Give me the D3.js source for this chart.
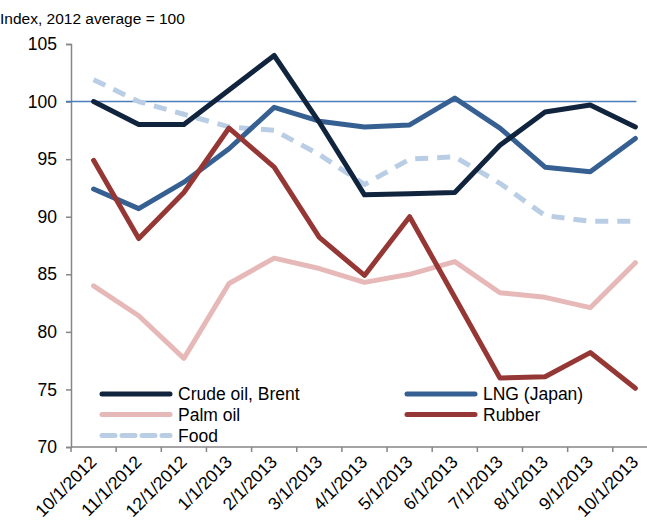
<!DOCTYPE html>
<html><head><meta charset="utf-8">
<script src="https://cdn.jsdelivr.net/npm/d3@7"></script>
<style>body{margin:0;background:#fff}svg{display:block}text{font-family:"Liberation Sans",Arial,sans-serif;fill:#000}</style>
</head><body><svg id="c" width="647" height="522"></svg>
<script>
const categories=["10/1/2012","11/1/2012","12/1/2012","1/1/2013","2/1/2013","3/1/2013","4/1/2013","5/1/2013","6/1/2013","7/1/2013","8/1/2013","9/1/2013","10/1/2013"];
const crude=[100,98,98,101,104,98.2,91.9,92.0,92.1,96.2,99.1,99.7,97.8];
const lng=[92.4,90.7,93.0,95.9,99.5,98.3,97.8,97.97,100.3,97.7,94.3,93.9,96.8];
const palm=[84,81.4,77.7,84.2,86.4,85.5,84.3,85.0,86.1,83.4,83.0,82.1,86.0];
const rubber=[94.9,88.1,92.1,97.7,94.3,88.2,84.9,90.0,83.0,76.0,76.1,78.2,75.1];
const food=[101.9,100.0,98.9,97.8,97.5,95.4,92.8,95.0,95.2,92.9,90.1,89.6,89.6];
const yTicks=[70,75,80,85,90,95,100,105];
const baseline=100;

const svg=d3.select("#c");
const x=d3.scaleBand().domain(categories).range([71,71+13*45.15]);
const y=d3.scaleLinear().domain([70,105]).range([447,44]);
const cx=d=>x(d)+x.bandwidth()/2;

svg.append("text").attr("x",0).attr("y",24).attr("font-size",15.5).text("Index, 2012 average = 100");

// y axis
const ya=svg.append("g").attr("transform","translate(71,0)").call(d3.axisLeft(y).tickValues(yTicks).tickSize(5).tickPadding(9));
ya.select(".domain").attr("stroke","#868686").attr("stroke-width",1.5);
ya.selectAll(".tick line").attr("stroke","#868686").attr("stroke-width",1.5);
ya.selectAll("text").attr("font-size",17.5).attr("font-family","Liberation Sans, Arial, sans-serif").attr("fill","#000");

// x axis
const bounds=categories.map(c=>x(c)).concat([x(categories[12])+x.bandwidth()]);
svg.append("line").attr("x1",71).attr("x2",647).attr("y1",447).attr("y2",447).attr("stroke","#868686").attr("stroke-width",1.5);
svg.selectAll(".xt").data(bounds).join("line").attr("x1",d=>d).attr("x2",d=>d).attr("y1",447).attr("y2",452).attr("stroke","#868686").attr("stroke-width",1.5);
svg.selectAll(".xl").data(categories).join("text")
  .attr("transform",d=>`translate(${cx(d)+4},${463}) rotate(-45)`)
  .attr("text-anchor","end").attr("font-size",17.5).text(d=>d);

// baseline 100
svg.append("line").attr("x1",66).attr("x2",cx(categories[12])+1).attr("y1",y(baseline)).attr("y2",y(baseline)).attr("stroke","#4a7ebb").attr("stroke-width",1.6);

const series=[
 {name:"Food",vals:food,color:"#b9cde5",dash:"13,9"},
 {name:"Palm oil",vals:palm,color:"#e6b9b8"},
 {name:"LNG (Japan)",vals:lng,color:"#376092"},
 {name:"Rubber",vals:rubber,color:"#953735"},
 {name:"Crude oil, Brent",vals:crude,color:"#10243e"}
];
const line=d3.line().x((d,i)=>cx(categories[i])).y(d=>y(d));
series.forEach(s=>{
  svg.append("path").attr("d",line(s.vals)).attr("fill","none").attr("stroke",s.color)
   .attr("stroke-width",5).attr("stroke-linejoin","round").attr("stroke-linecap",s.dash?"butt":"round")
   .attr("stroke-dasharray",s.dash||null);
});

// legend
const legend=[
 {name:"Crude oil, Brent",color:"#10243e",lx:100,ly:394},
 {name:"LNG (Japan)",color:"#376092",lx:405,ly:394},
 {name:"Palm oil",color:"#e6b9b8",lx:100,ly:414.5},
 {name:"Rubber",color:"#953735",lx:405,ly:414.5},
 {name:"Food",color:"#b9cde5",lx:100,ly:435.5,dash:"13,7"}
];
legend.forEach(l=>{
  svg.append("line").attr("x1",l.lx+2).attr("x2",l.lx+70).attr("y1",l.ly).attr("y2",l.ly)
   .attr("stroke",l.color).attr("stroke-width",5).attr("stroke-linecap","round").attr("stroke-dasharray",l.dash||null);
  svg.append("text").attr("x",l.lx+78).attr("y",l.ly+6).attr("font-size",17.5).text(l.name);
});
</script></body></html>
